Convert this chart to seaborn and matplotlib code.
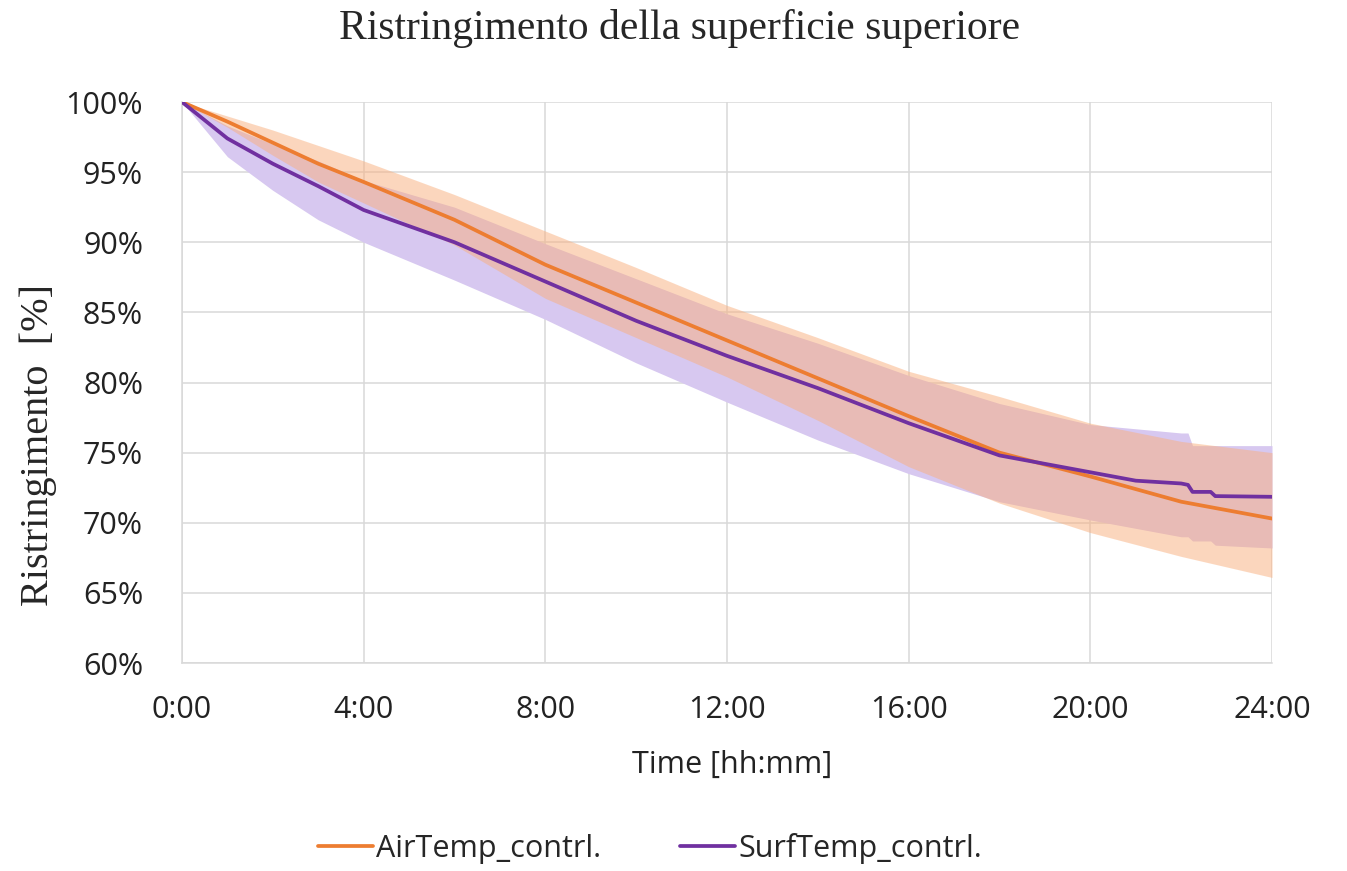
import matplotlib
matplotlib.use("Agg")
import matplotlib.pyplot as plt
import seaborn as sns
import pandas as pd

# time in hours, values in %
air_t = [0, 1, 2, 3, 4, 6, 8, 10, 12, 14, 16, 18, 20, 22, 24]
air_mean = [100, 98.6, 97.1, 95.6, 94.3, 91.6, 88.4, 85.7, 83.0, 80.3, 77.6, 75.0, 73.3, 71.5, 70.3]
air_upper = [100, 99.0, 98.0, 96.9, 95.8, 93.4, 90.8, 88.2, 85.5, 83.2, 80.8, 79.0, 77.1, 75.8, 75.0]
air_lower = [100, 98.2, 96.2, 94.3, 92.8, 89.8, 86.0, 83.2, 80.4, 77.3, 74.0, 71.4, 69.3, 67.6, 66.1]

surf_t = [0, 1, 2, 3, 4, 6, 8, 10, 12, 14, 16, 18, 20, 21, 22, 22.15, 22.25, 22.65, 22.75, 24]
surf_mean = [100, 97.4, 95.6, 94.0, 92.3, 90.0, 87.2, 84.4, 81.9, 79.6, 77.1, 74.8, 73.6, 73.0, 72.8,
             72.7, 72.2, 72.2, 71.9, 71.85]
surf_upper = [100, 98.3, 97.0, 95.8, 94.4, 92.5, 89.9, 87.4, 84.9, 82.8, 80.5, 78.5, 77.0, 76.7, 76.4,
              76.4, 75.5, 75.5, 75.5, 75.5]
surf_lower = [100, 96.1, 93.7, 91.6, 90.0, 87.3, 84.5, 81.4, 78.6, 75.9, 73.5, 71.5, 70.2, 69.6, 69.0,
              69.0, 68.7, 68.7, 68.4, 68.2]

series_names = ["AirTemp_contrl.", "SurfTemp_contrl."]
x_ticks = [0, 4, 8, 12, 16, 20, 24]
x_labels = ["0:00", "4:00", "8:00", "12:00", "16:00", "20:00", "24:00"]
y_ticks = [60, 65, 70, 75, 80, 85, 90, 95, 100]

title = "Ristringimento della superficie superiore"
y_title = "Ristringimento  [%]"
x_title = "Time [hh:mm]"

line_colors = {"AirTemp_contrl.": "#ED7D31", "SurfTemp_contrl.": "#7030A0"}
air_band = (249 / 255, 175 / 255, 125 / 255)
surf_band = (215 / 255, 200 / 255, 240 / 255)
grid_col = "#D9D9D9"
serif = ["Liberation Serif", "DejaVu Serif"]

sns.set_style("white")
plt.rcParams["font.family"] = ["Open Sans", "DejaVu Sans"]

df = pd.concat([
    pd.DataFrame({"t": air_t, "v": air_mean, "serie": series_names[0]}),
    pd.DataFrame({"t": surf_t, "v": surf_mean, "serie": series_names[1]}),
])

fig = plt.figure(figsize=(13.47, 8.71), dpi=100)
ax = fig.add_axes([182 / 1347, 1 - 663 / 871, 1090 / 1347, 561 / 871])

# bands: purple first, orange semi-transparent on top -> pinkish overlap
ax.fill_between(surf_t, surf_lower, surf_upper, color=surf_band, lw=0, zorder=1)
ax.fill_between(air_t, air_lower, air_upper, color=air_band, alpha=0.5, lw=0, zorder=1.5)

sns.lineplot(data=df, x="t", y="v", hue="serie", palette=line_colors, linewidth=2.7,
             ax=ax, zorder=3, estimator=None)

ax.set_xlim(0, 24)
ax.set_ylim(60, 100)
ax.set_xticks(x_ticks)
ax.set_xticklabels(x_labels)
ax.set_yticks(y_ticks)
ax.set_yticklabels([f"{v}%" for v in y_ticks])
ax.tick_params(axis="both", length=0, labelsize=22, colors="#222222")
ax.tick_params(axis="x", pad=23)
ax.tick_params(axis="y", pad=28)

ax.grid(True, color=grid_col, linewidth=1.1)
ax.set_axisbelow(True)
for s in ["top", "right"]:
    ax.spines[s].set_visible(False)
for s in ["left", "bottom"]:
    ax.spines[s].set_color(grid_col)
    ax.spines[s].set_linewidth(1.1)

ax.set_xlabel(x_title, fontsize=22, color="#222222")
ax.xaxis.set_label_coords(0.505, -0.155)
ax.set_ylabel(y_title, fontsize=29, family=serif)
ax.yaxis.set_label_coords(-0.115, 0.389)

fig.text(680 / 1347, 1 - 28 / 871, title, ha="center", va="center", fontsize=30, family=serif)

handles, labels = ax.get_legend_handles_labels()
ax.get_legend().remove()
fig.legend(handles, labels, loc="center", bbox_to_anchor=(650 / 1347, 1 - 848 / 871), ncol=2,
           frameon=False, fontsize=22, handlelength=1.8, handletextpad=0.1, columnspacing=2.6)

fig.savefig("out.png", dpi=100)
